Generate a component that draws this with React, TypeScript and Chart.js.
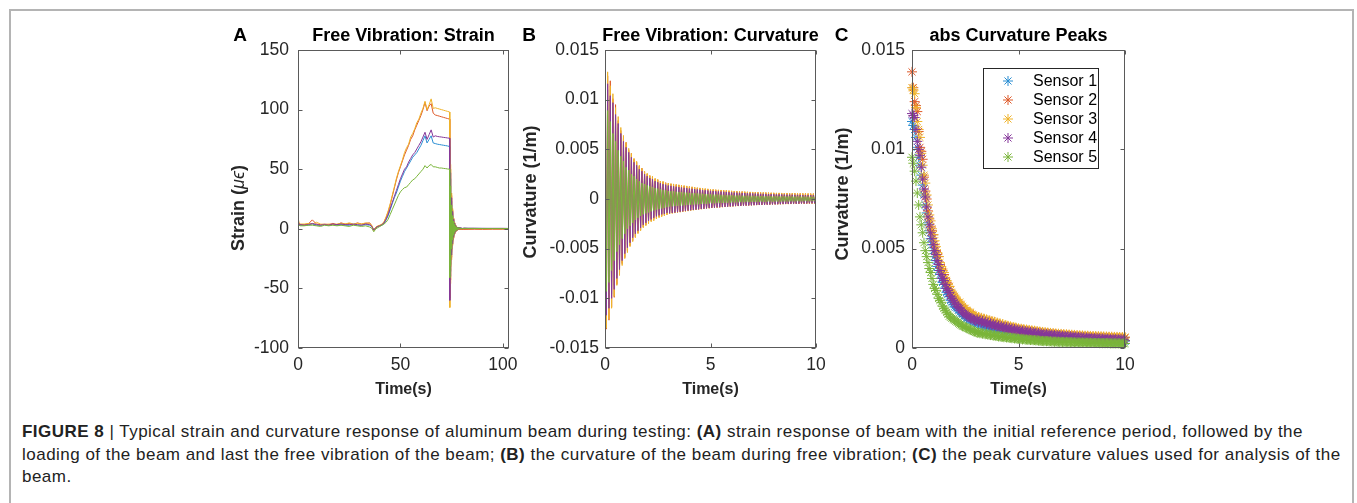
import React, { useEffect, useRef } from 'react';
import { Chart, registerables } from 'chart.js';

Chart.register(...registerables);

const FONT = '"Liberation Sans", Arial, Helvetica, sans-serif';
Chart.defaults.font.family = FONT;
Chart.defaults.color = '#262626';

// ---------------- labels / colours ----------------
const SENSOR_LABELS = ['Sensor 1', 'Sensor 2', 'Sensor 3', 'Sensor 4', 'Sensor 5'];
const SENSOR_COLORS = ['#2a8ed3', '#de5a2a', '#efb32b', '#85379a', '#7ab53a'];

// ---------------- panel A : strain (micro-strain) vs time (s) ----------------
const STRAIN_TIME = [
  0, 0.5, 1, 3, 5, 7, 9, 11, 13, 15, 17, 19, 21, 23, 25, 27, 29, 31, 33, 35,
  36, 37, 38, 39, 40, 41, 42, 43, 44, 45, 46, 47, 48, 49, 50, 51, 52, 53, 54, 55, 56, 57, 58, 59,
  60, 61, 62, 63, 64, 65, 66, 67, 68, 69, 70, 71, 72, 73, 74,
  74.125, 74.25, 74.375, 74.5, 74.625, 74.75, 74.875, 75, 75.125, 75.25, 75.375, 75.5, 75.625, 75.75,
  75.875, 76, 76.125, 76.25, 76.375, 76.5, 76.625, 76.75, 76.875, 77, 77.125, 77.25, 77.375, 77.5,
  77.625, 77.75, 77.875,
  78.25, 78.5, 78.75, 79, 79.25, 79.5, 79.75, 80,
  81, 83, 86, 90, 95, 100, 103,
];

const STRAIN_S1 = [
  5, 3.5, 3, 3, 3, 4, 3, 3, 3.5, 3, 3.5, 3, 3.5, 3, 3, 3.5, 3, 3, 3.5, 3,
  2, -1, 1, 2, 2.5,
  3, 4.5, 7.5, 11, 16, 21, 26, 30, 35, 40, 44, 48, 51, 54, 57, 60, 62, 64, 67, 70,
  74, 78, 72, 75, 78, 72, 71.5, 71, 70.7, 70.4, 70.1, 69.8, 69.5, 69,
  -50, 42, -36, 31, -27, 23, -20, 17, -15, 13, -11, 9.5, -8.2, 7, -6, 5.3, -4.5, 4, -3.4, 3,
  -2.6, 2.3, -2, 1.8, -1.5, 1.5, -1.2, 1.2, -0.9, 1.0, -0.7,
  0.9, -0.4, 0.8, -0.2, 0.7, -0.1, 0.6, 0,
  0.4, 0.3, 0.3, 0.3, 0.2, 0.2, 0.2,
];
const STRAIN_S2 = [
  8, 4.5, 3.5, 3.5, 4, 7.5, 4, 3.5, 4, 3.5, 4.5, 3.5, 5, 4, 4.5, 3.5, 5, 4, 4.5, 5,
  2.5, -1.5, 1, 2, 3,
  3.5, 5.5, 9.5, 14, 20, 27, 34, 41, 47, 52, 57, 62, 66, 70, 75, 78, 83, 87, 91, 95,
  100, 106, 99, 103, 105, 97, 95.5, 95, 94.5, 94, 93.5, 93, 92.5, 92,
  -58, 50, -43, 37, -32, 28, -24, 21, -18, 15.5, -13, 11.5, -10, 8.5, -7.5, 6.5, -5.6, 4.9, -4.3, 3.7,
  -3.2, 2.8, -2.5, 2.1, -1.9, 1.6, -1.5, 1.2, -1.2, 0.9, -1.0,
  0.6, -0.8, 0.4, -0.7, 0.3, -0.6, 0.2, -0.6,
  -0.5, -0.5, -0.4, -0.5, -0.4, -0.4, -0.4,
];
const STRAIN_S3 = [
  10, 5, 4, 4, 4.5, 4, 5.5, 4, 3.5, 4, 3.5, 4, 4.5, 4, 5, 4, 4.5, 4, 5, 4.5,
  3, -1, 1.5, 2.5, 3,
  4, 6, 10, 15, 21, 28, 35, 42, 48, 53, 58, 64, 68, 71, 77, 80, 84, 89, 92, 97,
  101, 107, 100, 104, 109, 101, 101.5, 101, 100.5, 100, 99.5, 99, 98.5, 98,
  -66, 54, -46, 40, -35, 30, -26, 22, -19, 17, -14, 12, -10.5, 9, -8, 7, -6, 5.2, -4.5, 4,
  -3.4, 3, -2.6, 2.3, -1.9, 1.7, -1.4, 1.3, -1.1, 1, -0.8,
  0.8, -0.5, 0.6, -0.3, 0.5, -0.2, 0.4, -0.1,
  0.2, 0.1, 0.2, 0.1, 0.1, 0.1, 0.1,
];
const STRAIN_S4 = [
  6, 4, 3.5, 3, 3.5, 4.5, 3.5, 3, 3.5, 3, 4, 3.5, 4, 3.5, 3.5, 4, 3.5, 3, 4, 3.5,
  2, -1, 1, 2, 2.5,
  3.5, 5, 8, 12, 17, 22, 27, 32, 37, 42, 46, 50, 52, 56, 59, 62, 64, 67, 70, 73,
  77, 81, 75, 79, 83, 77, 78, 77.5, 77.2, 77, 76.7, 76.5, 76.2, 76,
  -60, 47, -40, 35, -30, 26, -22, 19.5, -17, 14.5, -12.5, 11, -9.5, 8, -7, 6, -5.2, 4.6, -4, 3.5,
  -3, 2.7, -2.3, 2.1, -1.8, 1.6, -1.3, 1.4, -1, 1.2, -0.7,
  1.1, -0.4, 1.0, -0.2, 0.9, 0, 0.8, 0.1,
  0.6, 0.5, 0.5, 0.4, 0.4, 0.4, 0.3,
];
const STRAIN_S5 = [
  4, 3, 2.5, 2.5, 3, 3, 2.5, 2, 3, 2.5, 3, 2.5, 3, 2.5, 2, 3, 2.5, 2, 2.5, 1.5,
  0.5, -2.5, 0, 1, 2,
  3, 4, 5.5, 8, 12, 16, 20, 24, 28, 31, 33, 34.5, 35, 37, 39, 41, 42, 44, 46, 48,
  50, 53, 51, 53, 54, 52, 52, 51.5, 51, 51, 50.7, 50.5, 50.2, 50,
  -41, 36, -31, 27, -23, 20, -17, 15, -13, 11, -9.5, 8.5, -7.2, 6.3, -5.4, 4.8, -4.1, 3.6, -3.1, 2.8,
  -2.4, 2.1, -1.8, 1.7, -1.4, 1.4, -1.1, 1.2, -0.8, 1.0, -0.6,
  0.9, -0.3, 0.8, -0.1, 0.7, 0, 0.6, 0.1,
  0.4, 0.3, 0.3, 0.2, 0.2, 0.2, 0.2,
];

// ---------------- panels B & C : curvature half-cycle peaks ----------------
// peak magnitudes are given in units of 1e-4 (1/m)
const CURVATURE_UNIT = 1e-4;
const PEAK_TIME = [
  0, 0.0625, 0.125, 0.1875, 0.25, 0.3125, 0.375, 0.4375, 0.5, 0.5625, 0.625, 0.6875, 0.75, 0.8125, 0.875, 0.9375,
  1, 1.0625, 1.125, 1.1875, 1.25, 1.3125, 1.375, 1.4375, 1.5, 1.5625, 1.625, 1.6875, 1.75, 1.8125, 1.875, 1.9375,
  2, 2.0625, 2.125, 2.1875, 2.25, 2.3125, 2.375, 2.4375, 2.5, 2.5625, 2.625, 2.6875, 2.75, 2.8125, 2.875, 2.9375,
  3, 3.0625, 3.125, 3.1875, 3.25, 3.3125, 3.375, 3.4375, 3.5, 3.5625, 3.625, 3.6875, 3.75, 3.8125, 3.875, 3.9375,
  4, 4.0625, 4.125, 4.1875, 4.25, 4.3125, 4.375, 4.4375, 4.5, 4.5625, 4.625, 4.6875, 4.75, 4.8125, 4.875, 4.9375,
  5, 5.0625, 5.125, 5.1875, 5.25, 5.3125, 5.375, 5.4375, 5.5, 5.5625, 5.625, 5.6875, 5.75, 5.8125, 5.875, 5.9375,
  6, 6.0625, 6.125, 6.1875, 6.25, 6.3125, 6.375, 6.4375, 6.5, 6.5625, 6.625, 6.6875, 6.75, 6.8125, 6.875, 6.9375,
  7, 7.0625, 7.125, 7.1875, 7.25, 7.3125, 7.375, 7.4375, 7.5, 7.5625, 7.625, 7.6875, 7.75, 7.8125, 7.875, 7.9375,
  8, 8.0625, 8.125, 8.1875, 8.25, 8.3125, 8.375, 8.4375, 8.5, 8.5625, 8.625, 8.6875, 8.75, 8.8125, 8.875, 8.9375,
  9, 9.0625, 9.125, 9.1875, 9.25, 9.3125, 9.375, 9.4375, 9.5, 9.5625, 9.625, 9.6875, 9.75, 9.8125, 9.875, 9.9375,
  10,
];
const PEAK_S1 = [
  114, 112, 110, 106, 101, 96, 92, 87, 82, 77, 72, 68, 63, 59, 55, 52,
  49, 46, 44, 41, 39, 37, 35, 33, 32, 30, 28, 27, 26, 24, 23, 22,
  21, 20.5, 20, 19, 18, 17.5, 17, 16, 16, 15, 15, 14.5, 14, 14, 13.5, 13,
  13.0, 12.6, 12.3, 11.9, 11.9, 11.5, 11.4, 11.0, 10.9, 10.6, 10.5, 10.2, 10.1, 9.8, 9.7, 9.4,
  9.5, 9.1, 9.2, 8.9, 8.9, 8.6, 8.7, 8.4, 8.5, 8.2, 8.3, 8.0, 8.1, 7.8, 7.9, 7.6,
  7.5, 7.3, 7.4, 7.1, 7.2, 7.0, 7.1, 6.8, 6.9, 6.7, 6.8, 6.5, 6.7, 6.4, 6.5, 6.3,
  6.3, 6.1, 6.2, 6.0, 6.1, 5.9, 6.0, 5.8, 5.9, 5.7, 5.8, 5.6, 5.7, 5.5, 5.6, 5.4,
  5.5, 5.3, 5.4, 5.2, 5.3, 5.1, 5.2, 5.0, 5.1, 4.9, 5.0, 4.8, 4.9, 4.7, 4.8, 4.7,
  4.8, 4.6, 4.7, 4.5, 4.6, 4.4, 4.6, 4.4, 4.5, 4.3, 4.4, 4.2, 4.3, 4.1, 4.2, 4.1,
  4.1, 3.9, 4.0, 3.9, 4.0, 3.8, 3.9, 3.7, 3.8, 3.7, 3.8, 3.6, 3.7, 3.6, 3.6, 3.5,
  3.5,
];
const PEAK_S2 = [
  139, 131, 124, 122, 119, 109, 101, 99, 95, 86, 79, 75, 69, 65, 61, 59,
  57, 52, 49, 47, 46, 42, 40, 38, 37, 34, 33, 31, 31, 28, 27, 26,
  25, 24, 23, 22, 22, 20.5, 20, 19.5, 19, 18, 18, 17, 17, 16, 16.5, 15.5,
  15.6, 14.6, 15.2, 14.2, 14.8, 13.8, 14.4, 13.4, 14.0, 13.0, 13.6, 12.6, 13.2, 12.2, 12.8, 11.8,
  12.3, 11.4, 11.9, 11.0, 11.5, 10.6, 11.1, 10.3, 10.8, 10.0, 10.5, 9.7, 10.2, 9.4, 9.9, 9.1,
  9.6, 8.9, 9.4, 8.7, 9.2, 8.5, 9.0, 8.3, 8.8, 8.1, 8.6, 7.9, 8.4, 7.7, 8.2, 7.5,
  8.0, 7.3, 7.8, 7.1, 7.7, 7.0, 7.5, 6.8, 7.4, 6.7, 7.2, 6.5, 7.1, 6.4, 6.9, 6.2,
  6.8, 6.1, 6.7, 6.0, 6.6, 5.9, 6.5, 5.8, 6.4, 5.7, 6.3, 5.6, 6.2, 5.5, 6.1, 5.4,
  6.1, 5.3, 6.0, 5.2, 5.9, 5.2, 5.8, 5.1, 5.8, 5.0, 5.7, 5.0, 5.7, 4.9, 5.6, 4.9,
  5.6, 4.8, 5.5, 4.8, 5.5, 4.7, 5.4, 4.7, 5.4, 4.6, 5.3, 4.6, 5.3, 4.5, 5.3, 4.5,
  5.2,
];
const PEAK_S3 = [
  131, 130, 128, 121, 114, 110, 106, 98, 92, 87, 83, 77, 72, 67, 64, 60,
  57, 54, 51, 48, 46, 43, 41, 39, 38, 35, 34, 32, 31, 29, 28, 27,
  26, 25, 24, 23, 23, 22, 21, 20, 20, 19, 18, 18, 18, 17, 16, 16,
  16.0, 15.0, 15.6, 14.6, 15.2, 14.2, 14.8, 13.8, 14.4, 13.4, 14.0, 13.0, 13.6, 12.6, 13.2, 12.2,
  12.8, 11.8, 12.4, 11.4, 12.0, 11.0, 11.6, 10.7, 11.2, 10.4, 10.9, 10.1, 10.6, 9.8, 10.3, 9.5,
  9.9, 9.1, 9.7, 8.9, 9.5, 8.7, 9.3, 8.5, 9.1, 8.3, 8.9, 8.1, 8.7, 7.9, 8.5, 7.7,
  8.3, 7.5, 8.1, 7.3, 7.9, 7.2, 7.8, 7.0, 7.6, 6.9, 7.5, 6.7, 7.3, 6.6, 7.2, 6.5,
  7.1, 6.3, 7.0, 6.2, 6.9, 6.1, 6.8, 6.0, 6.7, 5.9, 6.6, 5.8, 6.5, 5.7, 6.4, 5.6,
  6.3, 5.5, 6.2, 5.4, 6.2, 5.4, 6.1, 5.3, 6.0, 5.2, 6.0, 5.2, 5.9, 5.1, 5.9, 5.1,
  5.8, 5.0, 5.8, 5.0, 5.7, 4.9, 5.7, 4.9, 5.6, 4.8, 5.6, 4.8, 5.5, 4.7, 5.5, 4.7,
  5.5,
];
const PEAK_S4 = [
  118, 117, 116, 110, 104, 100, 97, 91, 85, 80, 76, 71, 66, 62, 58, 55,
  52, 49, 47, 44, 42, 39, 37, 35, 34, 32, 30, 29, 28, 26, 25, 24,
  23, 22, 21, 20.5, 20, 19, 18, 17.5, 17, 16.5, 16, 15.5, 15, 15, 14.5, 14,
  13.6, 14.4, 13.2, 14.0, 12.8, 13.6, 12.4, 13.2, 12.0, 12.8, 11.6, 12.4, 11.3, 12.0, 11.0, 11.6,
  10.6, 11.3, 10.3, 11.0, 10.0, 10.7, 9.7, 10.4, 9.4, 10.1, 9.1, 9.8, 8.8, 9.5, 8.6, 9.2,
  8.3, 8.9, 8.1, 8.7, 7.9, 8.5, 7.7, 8.3, 7.5, 8.1, 7.3, 7.9, 7.1, 7.7, 6.9, 7.5,
  6.7, 7.3, 6.5, 7.1, 6.4, 7.0, 6.3, 6.9, 6.1, 6.7, 6.0, 6.6, 5.9, 6.5, 5.8, 6.4,
  5.6, 6.2, 5.5, 6.1, 5.4, 6.0, 5.3, 5.9, 5.2, 5.8, 5.1, 5.7, 5.0, 5.6, 4.9, 5.5,
  4.8, 5.4, 4.7, 5.3, 4.7, 5.2, 4.6, 5.1, 4.5, 5.0, 4.4, 5.0, 4.4, 4.9, 4.3, 4.8,
  4.2, 4.8, 4.2, 4.7, 4.1, 4.6, 4.0, 4.6, 4.0, 4.5, 3.9, 4.4, 3.9, 4.4, 3.8, 4.3,
  3.8,
];
const PEAK_S5 = [
  96, 93, 89, 84, 78, 72, 66, 62, 58, 53, 49, 46, 43, 40, 38, 35,
  32, 30, 29, 27, 25, 24, 23, 21, 20, 19, 18, 17, 16, 15.5, 15, 14.5,
  14, 13.5, 13, 12.5, 12, 11.5, 11, 10.8, 10.5, 10.2, 9.8, 9.5, 9.2, 8.9, 8.6, 8.3,
  8.0, 7.6, 7.9, 7.4, 7.6, 7.2, 7.3, 6.9, 7.1, 6.7, 6.9, 6.5, 6.6, 6.2, 6.4, 6.0,
  6.1, 5.8, 5.9, 5.6, 5.7, 5.4, 5.6, 5.3, 5.4, 5.1, 5.2, 4.9, 5.1, 4.8, 4.9, 4.6,
  4.7, 4.4, 4.6, 4.3, 4.5, 4.2, 4.3, 4.1, 4.2, 4.0, 4.1, 3.9, 4.0, 3.8, 3.9, 3.7,
  3.7, 3.5, 3.6, 3.4, 3.6, 3.4, 3.5, 3.3, 3.4, 3.2, 3.3, 3.1, 3.3, 3.1, 3.2, 3.0,
  3.2, 3.0, 3.1, 2.9, 3.1, 2.9, 3.0, 2.8, 3.0, 2.8, 2.9, 2.7, 2.9, 2.7, 2.8, 2.7,
  2.8, 2.6, 2.8, 2.6, 2.7, 2.6, 2.7, 2.5, 2.7, 2.5, 2.6, 2.5, 2.6, 2.4, 2.6, 2.4,
  2.5, 2.4, 2.5, 2.4, 2.5, 2.3, 2.4, 2.3, 2.4, 2.3, 2.4, 2.3, 2.4, 2.2, 2.3, 2.2,
  2.3,
];

// ---------------- ticks ----------------
const A_X_TICKS = [0, 50, 100];
const A_Y_TICKS = [-100, -50, 0, 50, 100, 150];
const B_X_TICKS = [0, 5, 10];
const B_Y_TICKS = [-0.015, -0.01, -0.005, 0, 0.005, 0.01, 0.015];
const C_X_TICKS = [0, 5, 10];
const C_Y_TICKS = [0, 0.005, 0.01, 0.015];

const STRAIN_SERIES = [STRAIN_S1, STRAIN_S2, STRAIN_S3, STRAIN_S4, STRAIN_S5];
const PEAK_SERIES = [PEAK_S1, PEAK_S2, PEAK_S3, PEAK_S4, PEAK_S5];

const TICK_COLOR = '#262626';
const TICK_SIZE = 17.5;
const BOX_COLOR = '#5a5a5a';

type Run = { text: string; font: string };
interface DecorCfg {
  title: string;
  letter: string;
  letterDx: number;
  yTitle: Run[];
  yTitleDx: number;
  yTitleDy: number;
  legend?: { x: number; y: number; w: number; h: number; row0: number; rowH: number; markerX: number; textX: number };
}

function drawStar(ctx: CanvasRenderingContext2D, x: number, y: number, r: number) {
  const d = r * Math.SQRT1_2;
  ctx.beginPath();
  ctx.moveTo(x, y - r); ctx.lineTo(x, y + r);
  ctx.moveTo(x - r, y); ctx.lineTo(x + r, y);
  ctx.moveTo(x - d, y - d); ctx.lineTo(x + d, y + d);
  ctx.moveTo(x - d, y + d); ctx.lineTo(x + d, y - d);
  ctx.stroke();
}

function makeDecor(cfg: DecorCfg) {
  return {
    id: 'panelDecor',
    afterDraw(chart: any) {
      const ctx: CanvasRenderingContext2D = chart.ctx;
      const a = chart.chartArea;
      const xs = chart.scales.x;
      const ys = chart.scales.y;
      ctx.save();
      if (cfg.legend) {
        const L = cfg.legend;
        const lx = Math.round(a.left + L.x) + 0.5;
        const ly = Math.round(a.top + L.y) + 0.5;
        ctx.fillStyle = '#ffffff';
        ctx.fillRect(lx, ly, L.w, L.h);
        ctx.strokeStyle = '#262626';
        ctx.lineWidth = 1;
        ctx.strokeRect(lx, ly, L.w, L.h);
        ctx.font = `16px ${FONT}`;
        ctx.textAlign = 'left';
        ctx.textBaseline = 'middle';
        chart.data.datasets.forEach((ds: any, i: number) => {
          const yy = a.top + L.row0 + i * L.rowH;
          ctx.strokeStyle = ds.borderColor;
          ctx.lineWidth = 1;
          drawStar(ctx, a.left + L.markerX, yy, 5);
          ctx.fillStyle = '#000000';
          ctx.fillText(ds.label, a.left + L.textX, yy + 1);
        });
      }
      ctx.strokeStyle = BOX_COLOR;
      ctx.lineWidth = 1;
      const l = Math.round(a.left) + 0.5;
      const r = Math.round(a.right) - 0.5;
      const t = Math.round(a.top) + 0.5;
      const b = Math.round(a.bottom) - 0.5;
      ctx.strokeRect(l, t, r - l, b - t);
      const TL = 4;
      ctx.beginPath();
      xs.ticks.forEach((tk: any) => {
        const p = Math.round(xs.getPixelForValue(tk.value)) + 0.5;
        ctx.moveTo(p, b); ctx.lineTo(p, b - TL);
        ctx.moveTo(p, t); ctx.lineTo(p, t + TL);
      });
      ys.ticks.forEach((tk: any) => {
        const p = Math.round(ys.getPixelForValue(tk.value)) + 0.5;
        ctx.moveTo(l, p); ctx.lineTo(l + TL, p);
        ctx.moveTo(r, p); ctx.lineTo(r - TL, p);
      });
      ctx.stroke();
      ctx.fillStyle = '#000000';
      ctx.font = `bold 18px ${FONT}`;
      ctx.textAlign = 'center';
      ctx.textBaseline = 'middle';
      ctx.fillText(cfg.title, (a.left + a.right) / 2, a.top - 14);
      ctx.font = `bold 19px ${FONT}`;
      ctx.fillText(cfg.letter, a.left + cfg.letterDx, a.top - 14);
      ctx.translate(a.left + cfg.yTitleDx, a.top + cfg.yTitleDy);
      ctx.rotate(-Math.PI / 2);
      let total = 0;
      cfg.yTitle.forEach((run) => { ctx.font = run.font; total += ctx.measureText(run.text).width; });
      let x = -total / 2;
      ctx.textAlign = 'left';
      ctx.fillStyle = '#262626';
      cfg.yTitle.forEach((run) => {
        ctx.font = run.font;
        ctx.fillText(run.text, x, 0);
        x += ctx.measureText(run.text).width;
      });
      ctx.restore();
    },
  };
}

function makeScales(xMax: number, xTicks: number[], yMin: number, yMax: number, yTicks: number[], yPad: number) {
  return {
    x: {
      type: 'linear',
      min: 0,
      max: xMax,
      grid: { display: false, drawTicks: false },
      border: { display: false },
      afterBuildTicks: (s: any) => { s.ticks = xTicks.map((v) => ({ value: v })); },
      afterFit: (s: any) => { s.height = 57; },
      ticks: {
        autoSkip: false, maxRotation: 0, padding: 7, color: TICK_COLOR,
        font: { size: TICK_SIZE }, callback: (v: any) => String(v),
      },
      title: {
        display: true, text: 'Time(s)', color: '#262626',
        font: { size: 16, weight: 'bold' }, padding: { top: 0, bottom: 6 },
      },
    },
    y: {
      type: 'linear',
      min: yMin,
      max: yMax,
      grid: { display: false, drawTicks: false },
      border: { display: false },
      afterBuildTicks: (s: any) => { s.ticks = yTicks.map((v) => ({ value: v })); },
      afterFit: (s: any) => { s.width = 108; },
      ticks: {
        autoSkip: false, padding: yPad, color: TICK_COLOR,
        font: { size: TICK_SIZE }, callback: (v: any) => String(v),
      },
    },
  };
}

function baseOptions(rightPad: number) {
  return {
    responsive: false,
    animation: false,
    events: [],
    layout: { padding: { left: 0, top: 35, right: rightPad, bottom: 0 } },
    plugins: { legend: { display: false }, title: { display: false }, tooltip: { enabled: false } },
  };
}

export default function App() {
  const aRef = useRef<HTMLCanvasElement>(null);
  const bRef = useRef<HTMLCanvasElement>(null);
  const cRef = useRef<HTMLCanvasElement>(null);

  useEffect(() => {
    const charts: Chart[] = [];
    const yBold = `bold 18px ${FONT}`;

    const strainSets = STRAIN_SERIES.map((s, k) => ({
      label: SENSOR_LABELS[k],
      data: STRAIN_TIME.map((t, i) => ({ x: t, y: s[i] })),
      borderColor: SENSOR_COLORS[k],
      backgroundColor: SENSOR_COLORS[k],
      borderWidth: 1,
      pointRadius: 0,
      tension: 0,
      fill: false,
      order: 4 - k,
    }));
    charts.push(new Chart(aRef.current as HTMLCanvasElement, {
      type: 'line',
      data: { datasets: strainSets },
      options: { ...baseOptions(21), scales: makeScales(103, A_X_TICKS, -100, 150, A_Y_TICKS, 9) } as any,
      plugins: [makeDecor({
        title: 'Free Vibration: Strain', letter: 'A', letterDx: -58,
        yTitle: [
          { text: 'Strain (', font: yBold },
          { text: 'μϵ', font: `italic 18px ${FONT}` },
          { text: ')', font: yBold },
        ],
        yTitleDx: -59, yTitleDy: 158,
      })],
    }));

    // curvature signal: successive half-cycle peaks alternate in sign
    const curvSets = PEAK_SERIES.map((s, k) => ({
      label: SENSOR_LABELS[k],
      data: PEAK_TIME.map((t, i) => ({ x: t, y: (i % 2 === 0 ? s[i] : -s[i]) * CURVATURE_UNIT })),
      borderColor: SENSOR_COLORS[k],
      backgroundColor: SENSOR_COLORS[k],
      borderWidth: 1,
      pointRadius: 0,
      tension: 0,
      fill: false,
      order: 4 - k,
    }));
    charts.push(new Chart(bRef.current as HTMLCanvasElement, {
      type: 'line',
      data: { datasets: curvSets },
      options: { ...baseOptions(21), scales: makeScales(10, B_X_TICKS, -0.015, 0.015, B_Y_TICKS, 6) } as any,
      plugins: [makeDecor({
        title: 'Free Vibration: Curvature', letter: 'B', letterDx: -76,
        yTitle: [{ text: 'Curvature (1/m)', font: yBold }],
        yTitleDx: -73.5, yTitleDy: 142,
      })],
    }));

    const peakSets = PEAK_SERIES.map((s, k) => ({
      label: SENSOR_LABELS[k],
      data: PEAK_TIME.map((t, i) => ({ x: t, y: s[i] * CURVATURE_UNIT })),
      borderColor: SENSOR_COLORS[k],
      backgroundColor: SENSOR_COLORS[k],
      borderWidth: 1,
      pointStyle: 'star',
      pointRadius: 5,
      clip: false,
      order: 4 - k,
    }));
    charts.push(new Chart(cRef.current as HTMLCanvasElement, {
      type: 'scatter',
      data: { datasets: peakSets },
      options: { ...baseOptions(19), scales: makeScales(10, C_X_TICKS, 0, 0.015, C_Y_TICKS, 7) } as any,
      plugins: [makeDecor({
        title: 'abs Curvature Peaks', letter: 'C', letterDx: -70.5,
        yTitle: [{ text: 'Curvature (1/m)', font: yBold }],
        yTitleDx: -68.5, yTitleDy: 144,
        legend: { x: 71, y: 18, w: 115, h: 100, row0: 31, rowH: 19, markerX: 96, textX: 121 },
      })],
    }));

    return () => charts.forEach((c) => c.destroy());
  }, []);

  const canvasStyle = (left: number): React.CSSProperties => ({
    position: 'absolute', left, top: 15, width: 340, height: 390,
  });

  return (
    <div style={{ position: 'absolute', left: 0, top: 0, width: 1357, height: 503, overflow: 'hidden', background: '#fff' }}>
      <div style={{
        position: 'absolute', left: 9, top: 9, width: 1345, height: 600, boxSizing: 'border-box',
        borderLeft: '2px solid #b4b4b4', borderTop: '2px solid #b4b4b4', borderRight: '2px solid #b4b4b4',
      }} />
      <canvas ref={aRef} width={340} height={390} style={canvasStyle(190)} />
      <canvas ref={bRef} width={340} height={390} style={canvasStyle(497)} />
      <canvas ref={cRef} width={340} height={390} style={canvasStyle(804)} />
      <div style={{
        position: 'absolute', left: 22, top: 421, whiteSpace: 'nowrap', color: '#222',
        fontFamily: '"Liberation Sans", Arial, sans-serif',
        fontSize: 17, lineHeight: '22.5px', letterSpacing: '0.48px',
      }}>
        <b>FIGURE 8</b> | Typical strain and curvature response of aluminum beam during testing: <b>(A)</b> strain response of beam with the initial reference period, followed by the<br />
        loading of the beam and last the free vibration of the beam; <b>(B)</b> the curvature of the beam during free vibration; <b>(C)</b> the peak curvature values used for analysis of the<br />
        beam.
      </div>
    </div>
  );
}
